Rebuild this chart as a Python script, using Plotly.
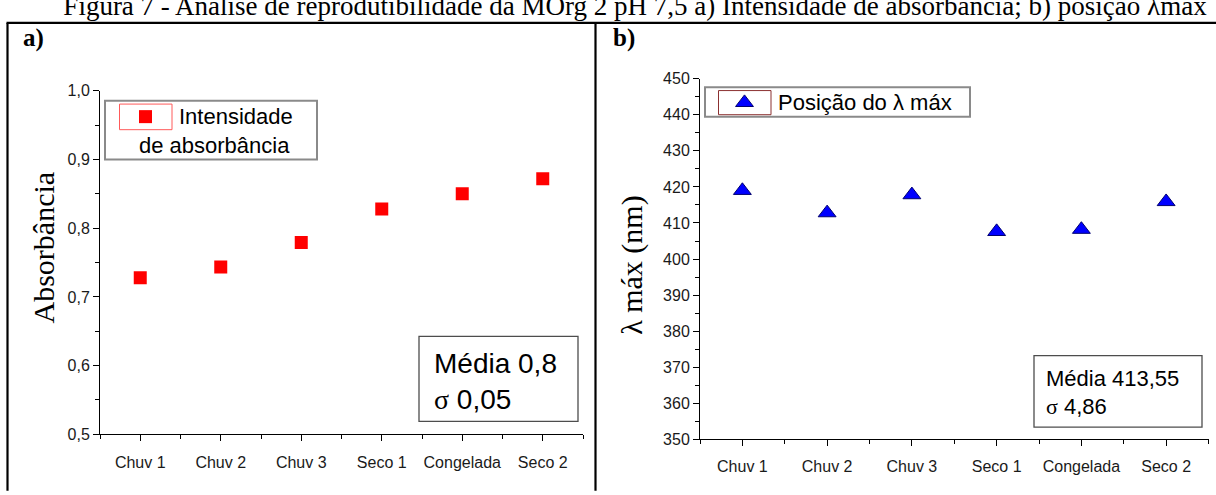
import plotly.graph_objects as go

W, H = 1216, 495

# Sample names shared by both panels
categories = ["Chuv 1", "Chuv 2", "Chuv 3", "Seco 1", "Congelada", "Seco 2"]

# a) absorbance intensity
absorbancia = [0.728, 0.7435, 0.779, 0.828, 0.850, 0.872]
abs_ticks = [0.5, 0.6, 0.7, 0.8, 0.9, 1.0]
abs_ticktext = ["0,5", "0,6", "0,7", "0,8", "0,9", "1,0"]

# b) position of the absorption maximum (nm)
lambda_max = [419.0, 412.8, 417.8, 407.6, 408.2, 415.9]
lam_ticks = [350, 360, 370, 380, 390, 400, 410, 420, 430, 440, 450]

CAPTION = ("Figura 7 - Análise de reprodutibilidade da MOrg 2 pH 7,5 "
           "a) Intensidade de absorbância; b) posição λmáx")

SANS = "Liberation Sans, Arial, sans-serif"
SERIF = "Liberation Serif, Times New Roman, serif"


def px(x):
    return x / W


def py(y):
    return 1 - y / H


xpos = list(range(len(categories)))
minor_x = [i - 0.5 for i in range(len(categories) + 1)]

fig = go.Figure()

fig.add_trace(go.Scatter(
    x=xpos, y=absorbancia, mode="markers", xaxis="x", yaxis="y",
    marker=dict(symbol="square", size=13, color="#ff0000",
                line=dict(color="#ff0000", width=0)),
    showlegend=False, hoverinfo="skip"))

fig.add_trace(go.Scatter(
    x=xpos, y=lambda_max, mode="markers", xaxis="x2", yaxis="y2",
    marker=dict(symbol="triangle-up", size=15.5, color="#0000ff",
                line=dict(color="#000070", width=1)),
    showlegend=False, hoverinfo="skip"))

# Legend keys, placed on a full-page pixel-space axis pair
fig.add_trace(go.Scatter(
    x=[145.5], y=[112.5], mode="markers", xaxis="x3", yaxis="y3",
    marker=dict(symbol="square", size=13, color="#ff0000", line=dict(width=0)),
    showlegend=False, hoverinfo="skip"))
fig.add_trace(go.Scatter(
    x=[744.5], y=[98], mode="markers", xaxis="x3", yaxis="y3",
    marker=dict(symbol="triangle-up", size=15.5, color="#0000ff",
                line=dict(color="#000070", width=1)),
    showlegend=False, hoverinfo="skip"))

# Caption line that runs past the top edge of the page
fig.add_trace(go.Scatter(
    x=[635], y=[0], mode="text", text=[CAPTION], textposition="middle center",
    textfont=dict(family=SERIF, size=27, color="black"), cliponaxis=False,
    xaxis="x3", yaxis="y3", showlegend=False, hoverinfo="skip"))

tickfont = dict(family=SANS, size=16, color="#1a1a1a")

xaxis_common = dict(
    range=[-0.5, len(categories) - 0.5], tickmode="array", tickvals=xpos,
    ticktext=categories, ticks="outside", ticklen=6, tickwidth=1,
    tickcolor="black", showline=True, linecolor="black", linewidth=1,
    showgrid=False, zeroline=False, tickfont=tickfont, ticklabelstandoff=7,
    minor=dict(tickmode="array", tickvals=minor_x, ticks="outside",
               ticklen=4, tickcolor="black", tickwidth=1, showgrid=False),
    fixedrange=True,
)

fig.update_layout(
    width=W, height=H,
    margin=dict(l=0, r=0, t=0, b=0),
    paper_bgcolor="white", plot_bgcolor="rgba(0,0,0,0)",
    xaxis=dict(domain=[px(100), px(583)], anchor="y", **xaxis_common),
    yaxis=dict(
        domain=[py(441.5), py(85.7)], anchor="x", range=[0.5, 1.0],
        tickmode="array", tickvals=abs_ticks, ticktext=abs_ticktext,
        ticks="outside", ticklen=6, tickwidth=1, tickcolor="black",
        showline=True, linecolor="black", linewidth=1, showgrid=False,
        zeroline=False, tickfont=tickfont,
        minor=dict(dtick=0.05, tick0=0.5, ticks="outside", ticklen=4,
                   tickcolor="black", tickwidth=1, showgrid=False),
        fixedrange=True,
    ),
    xaxis2=dict(domain=[px(700), px(1208.5)], anchor="y2", **xaxis_common),
    yaxis2=dict(
        domain=[py(446.6), py(73.3)], anchor="x2", range=[350, 450],
        tickmode="array", tickvals=lam_ticks,
        ticks="outside", ticklen=6, tickwidth=1, tickcolor="black",
        showline=True, linecolor="black", linewidth=1, showgrid=False,
        zeroline=False, tickfont=tickfont,
        minor=dict(dtick=5, tick0=350, ticks="outside", ticklen=4,
                   tickcolor="black", tickwidth=1, showgrid=False),
        fixedrange=True,
    ),
    xaxis3=dict(domain=[0, 1], range=[0, W], visible=False, anchor="y3",
                fixedrange=True),
    yaxis3=dict(domain=[0, 1], range=[H, 0], visible=False, anchor="x3",
                fixedrange=True),
)

shapes = []


def rect(x0, y0, x1, y1, color, width, fill="rgba(0,0,0,0)", layer="below"):
    shapes.append(dict(type="rect", xref="paper", yref="paper",
                       x0=px(x0), x1=px(x1), y0=py(y1), y1=py(y0),
                       line=dict(color=color, width=width), fillcolor=fill,
                       layer=layer))


def line(x0, y0, x1, y1, width=2.2):
    shapes.append(dict(type="line", xref="paper", yref="paper",
                       x0=px(x0), x1=px(x1), y0=py(y0), y1=py(y1),
                       line=dict(color="black", width=width)))


# Table frame around the two panels
line(6.5, 15.5, W + 5, 15.5)
line(7.5, 15.5, 7.5, H + 5)
line(595.5, 15.5, 595.5, H + 5)

# Legend frames and key boxes
rect(105, 96, 317, 157, "#8a8a8a", 2)
rect(119.5, 99.5, 172, 126, "#ff5a5a", 1)
rect(705, 82, 970, 112.5, "#8a8a8a", 2)
rect(718.5, 85.5, 771, 110.5, "#8b3030", 1)

# Statistics boxes
rect(419, 340, 578, 428, "#4d4d4d", 1.3)
rect(1034, 360, 1202, 434, "#4d4d4d", 1.3)

fig.update_layout(shapes=shapes)

annotations = []


def text(x, y, s, size, family=SANS, xanchor="left", yanchor="middle",
         color="black", angle=0):
    annotations.append(dict(x=px(x), y=py(y), xref="paper", yref="paper",
                            text=s, showarrow=False, xanchor=xanchor,
                            yanchor=yanchor, textangle=angle,
                            font=dict(family=family, size=size, color=color)))


sigma = '<span style="font-family:Liberation Serif, Times New Roman, serif">σ</span>'

# Panel labels
text(21, 31, "<b>a)</b>", 25, family=SERIF)
text(611, 31, "<b>b)</b>", 25, family=SERIF)

# Axis titles
text(43, 248, "Absorbância", 30, family=SERIF, xanchor="center", angle=-90)
text(632, 266, "λ máx (nm)", 30, family=SERIF, xanchor="center", angle=-90)

# Legend labels
text(177, 112, "Intensidade", 22)
text(137, 142, "de absorbância", 22)
text(776, 98, "Posição do λ máx", 22)

# Summary statistics
text(432, 368, "Média 0,8", 28)
text(432, 405, sigma + " 0,05", 28)
text(1044, 384, "Média 413,55", 22)
text(1044, 413, sigma + " 4,86", 22)

fig.update_layout(annotations=annotations)

fig.write_html("out.html", config={"displayModeBar": False})
